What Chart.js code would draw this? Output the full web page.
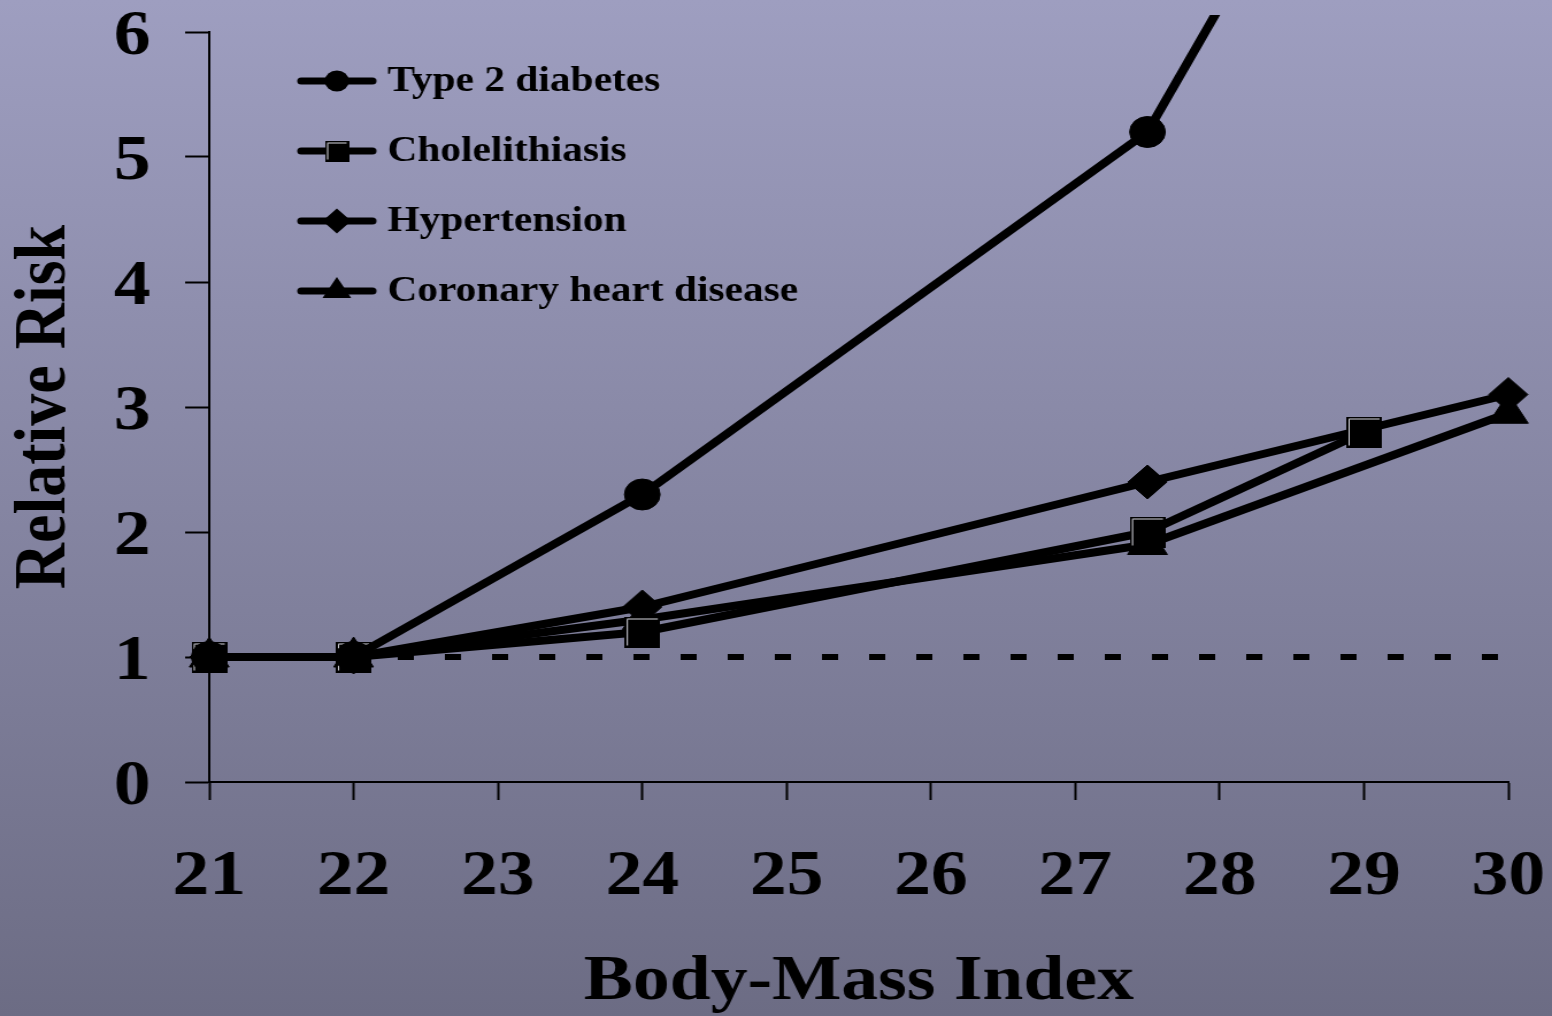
<!DOCTYPE html>
<html>
<head>
<meta charset="utf-8">
<title>Relative Risk vs Body-Mass Index</title>
<script src="https://cdn.jsdelivr.net/npm/chart.js@4.4.1/dist/chart.umd.min.js"></script>
<style>
  html, body {
    margin: 0;
    padding: 0;
    overflow: hidden;
    width: 1552px;
    height: 1016px;
    background: linear-gradient(to bottom, #9e9ec0 0%, #6c6c84 100%);
  }
  #chart {
    display: block;
  }
</style>
</head>
<body>
<!-- slide text is stretched wide, so draw narrow and stretch the canvas -->
<canvas id="chart" width="1350" height="1016" style="width:1552px;height:1016px"></canvas>
<script>
// --- data ---
const bmi = [21, 22, 24, 27.5, 29, 30];
const diabetes = [1, 1, 2.3, 5.2, 8.2, null];
const cholelithiasis = [1, 1, 1.2, 2.0, 2.8, null];
const hypertension = [1, 1, 1.4, 2.4, null, 3.1];
const coronary = [1, 1, 1.3, 1.9, null, 2.95];

const refX = [21, 30];
const refY = [1, 1];

const seriesLabels = ['Type 2 diabetes', 'Cholelithiasis', 'Hypertension', 'Coronary heart disease'];
const markerStyles = ['circle', 'square', 'diamond', 'triangle'];

const xTicks = [21, 22, 23, 24, 25, 26, 27, 28, 29, 30];
const yTicks = [0, 1, 2, 3, 4, 5, 6];

const serif = '"Liberation Serif", "Times New Roman", serif';

function toPoints(xs, ys) {
  return xs.map((x, i) => ({ x: x, y: ys[i] })).filter(p => p.y !== null);
}

// square marker with the little light bevel line on top/left
function makeSquare(size) {
  const c = document.createElement('canvas');
  c.width = size;
  c.height = size;
  const g = c.getContext('2d');
  g.fillStyle = '#000';
  g.fillRect(0, 0, size, size);
  g.strokeStyle = '#d8d8e0';
  g.lineWidth = 1;
  g.beginPath();
  g.moveTo(2.5, size - 2);
  g.lineTo(2.5, 2.5);
  g.lineTo(size - 2, 2.5);
  g.stroke();
  return c;
}

const squareMarker = makeSquare(31);
const squareLegend = makeSquare(21);

// small markers for the legend inside the plot
function drawMarker(ctx, style, x, y) {
  ctx.fillStyle = '#000';
  ctx.beginPath();
  if (style === 'circle') {
    ctx.arc(x, y, 10.5, 0, Math.PI * 2);
    ctx.fill();
  } else if (style === 'square') {
    ctx.drawImage(squareLegend, x - 10.5, y - 10.5);
  } else if (style === 'diamond') {
    ctx.moveTo(x, y - 12.5);
    ctx.lineTo(x + 12.5, y);
    ctx.lineTo(x, y + 12.5);
    ctx.lineTo(x - 12.5, y);
    ctx.closePath();
    ctx.fill();
  } else if (style === 'triangle') {
    ctx.moveTo(x, y - 14);
    ctx.lineTo(x + 12.5, y + 7);
    ctx.lineTo(x - 12.5, y + 7);
    ctx.closePath();
    ctx.fill();
  }
}

const innerLegend = {
  id: 'innerLegend',
  afterDraw(chart) {
    const ctx = chart.ctx;
    ctx.save();
    seriesLabels.forEach((label, i) => {
      const y = 81 + i * 70;
      ctx.strokeStyle = '#000';
      ctx.lineWidth = 7;
      ctx.lineCap = 'round';
      ctx.beginPath();
      ctx.moveTo(262, y);
      ctx.lineTo(324, y);
      ctx.stroke();
      drawMarker(ctx, markerStyles[i], 293, y);
      ctx.fillStyle = '#000';
      ctx.font = 'bold 36px ' + serif;
      ctx.textBaseline = 'middle';
      ctx.textAlign = 'left';
      ctx.fillText(label, 337, y + 1);
    });
    ctx.restore();
  }
};

const lineBase = {
  borderColor: '#000',
  backgroundColor: '#000',
  pointBackgroundColor: '#000',
  pointBorderColor: '#000',
  pointBorderWidth: 1,
  borderWidth: 8,
  borderJoinStyle: 'round',
  borderCapStyle: 'round',
  tension: 0,
  spanGaps: true,
  clip: { left: 40, top: 17, right: 40, bottom: 40 }
};

const canvas = document.getElementById('chart');

new Chart(canvas, {
  type: 'line',
  data: {
    datasets: [
      Object.assign({}, lineBase, {
        label: seriesLabels[0],
        data: toPoints(bmi, diabetes),
        pointStyle: 'circle',
        pointRadius: 15.5
      }),
      Object.assign({}, lineBase, {
        label: seriesLabels[1],
        data: toPoints(bmi, cholelithiasis),
        pointStyle: squareMarker,
        pointRadius: 15
      }),
      Object.assign({}, lineBase, {
        label: seriesLabels[2],
        data: toPoints(bmi, hypertension),
        pointStyle: 'rectRot',
        pointRadius: 17
      }),
      Object.assign({}, lineBase, {
        label: seriesLabels[3],
        data: toPoints(bmi, coronary),
        pointStyle: 'triangle',
        pointRadius: 20
      }),
      {
        label: 'Reference',
        data: toPoints(refX, refY),
        borderColor: '#000',
        borderWidth: 6,
        borderDash: [14, 27],
        borderCapStyle: 'butt',
        pointRadius: 0,
        tension: 0
      }
    ]
  },
  options: {
    responsive: false,
    animation: false,
    events: [],
    layout: {
      padding: { top: 32, right: 38, left: 0, bottom: 0 }
    },
    plugins: {
      legend: { display: false },
      tooltip: { enabled: false }
    },
    scales: {
      x: {
        type: 'linear',
        min: 21,
        max: 30,
        afterBuildTicks: scale => { scale.ticks = xTicks.map(v => ({ value: v })); },
        afterFit: scale => {
          scale.height = 234;
          scale.paddingLeft = 0;
          scale.paddingRight = 0;
        },
        grid: {
          drawOnChartArea: false,
          drawTicks: true,
          tickLength: 18,
          tickWidth: 2,
          tickColor: '#000'
        },
        border: { display: true, color: '#000', width: 2 },
        ticks: {
          color: '#000',
          padding: 39,
          maxRotation: 0,
          font: { family: serif, size: 64, weight: 'bold', lineHeight: 1.2 }
        },
        title: {
          display: true,
          text: 'Body-Mass Index',
          color: '#000',
          padding: 0,
          font: { family: serif, size: 64, weight: 'bold', lineHeight: 1.0625 }
        }
      },
      y: {
        min: 0,
        max: 6,
        afterBuildTicks: scale => { scale.ticks = yTicks.map(v => ({ value: v })); },
        afterFit: scale => {
          scale.width = 182;
          scale.paddingTop = 0;
          scale.paddingBottom = 0;
        },
        grid: {
          drawOnChartArea: false,
          drawTicks: true,
          tickLength: 21,
          tickWidth: 2,
          tickColor: '#000'
        },
        border: { display: true, color: '#000', width: 2 },
        ticks: {
          color: '#000',
          padding: 30,
          labelOffset: 5,
          font: { family: serif, size: 64, weight: 'bold', lineHeight: 1 }
        },
        title: {
          display: true,
          text: 'Relative Risk',
          color: '#000',
          padding: 0,
          font: { family: serif, size: 64, weight: 'bold', lineHeight: 1.23 }
        }
      }
    }
  },
  plugins: [innerLegend]
});

// keep the stretched display size
canvas.style.width = '1552px';
canvas.style.height = '1016px';
</script>
</body>
</html>
